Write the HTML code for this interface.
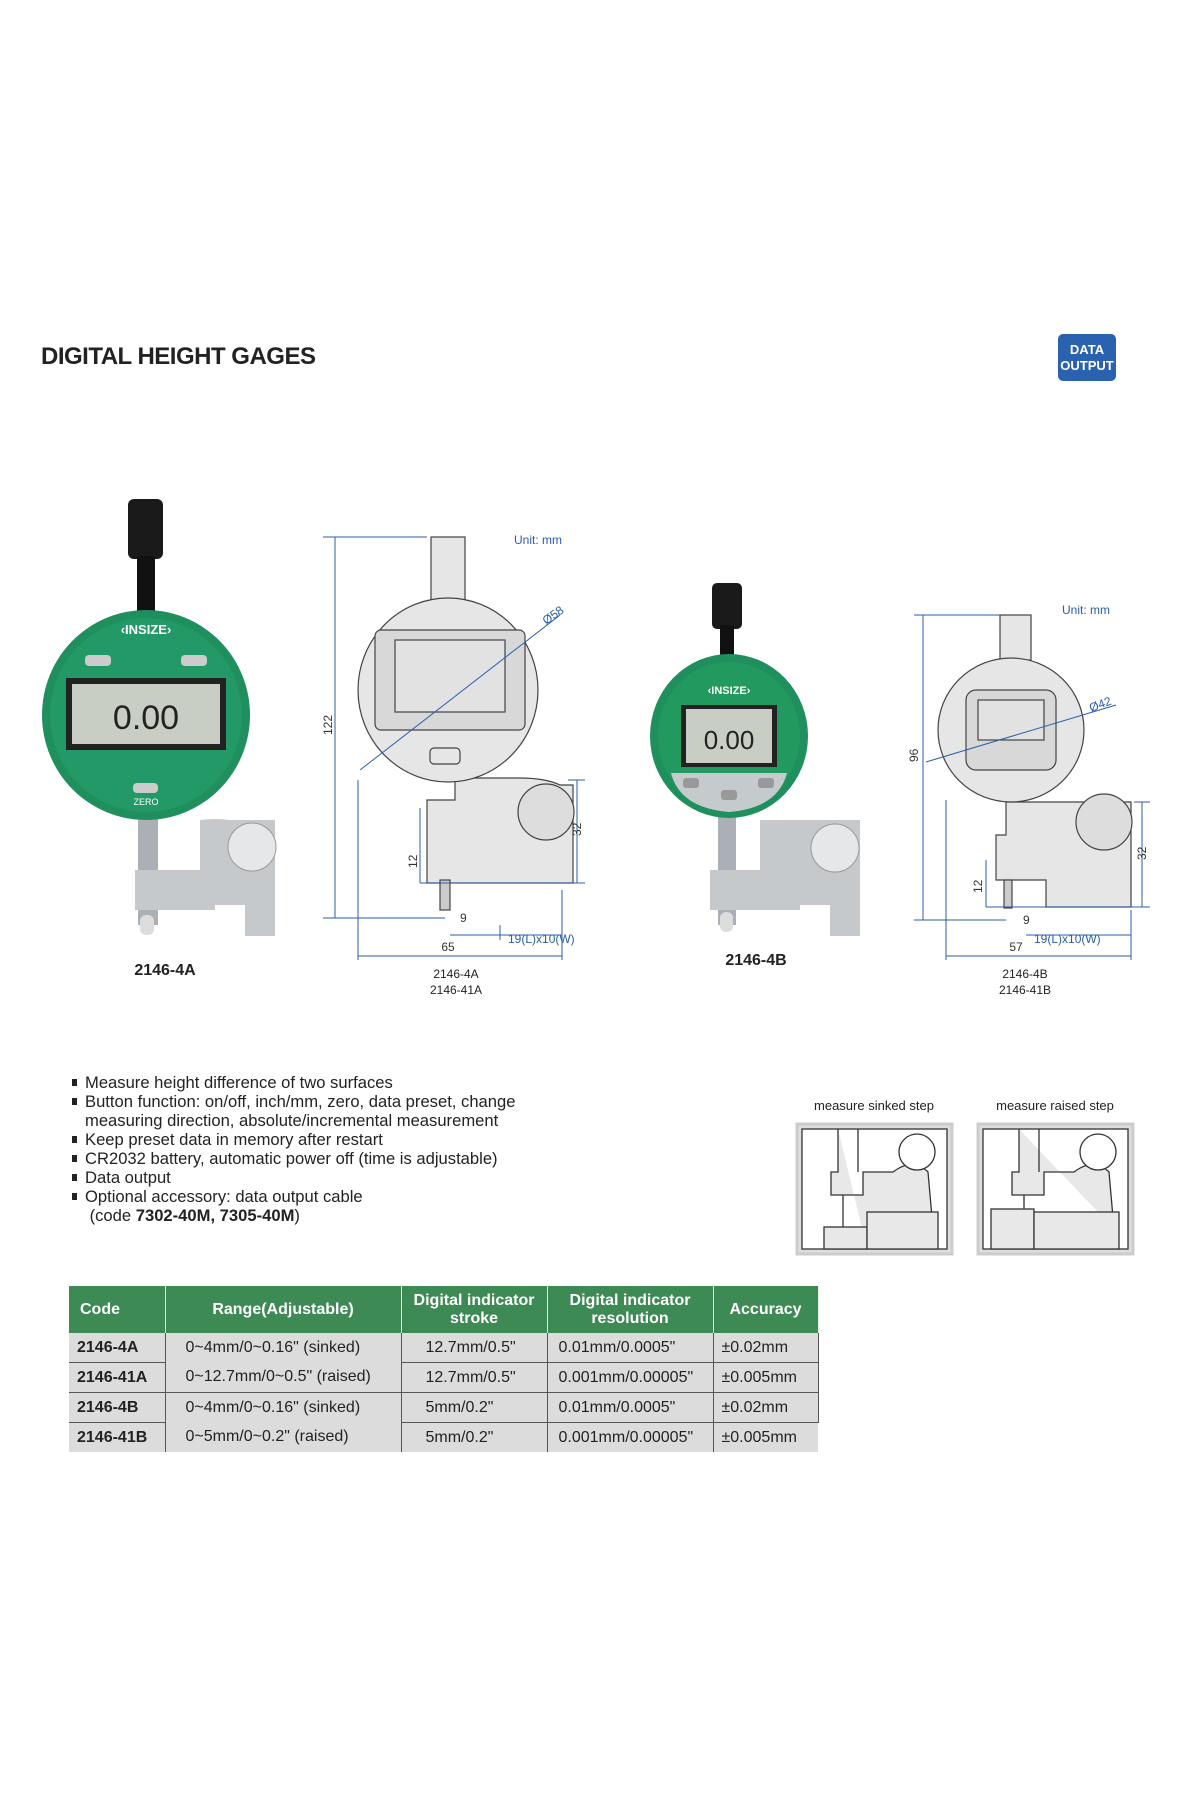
<!DOCTYPE html>
<html><head><meta charset="utf-8"><style>
html,body{margin:0;padding:0;background:#fff;}
body{width:1200px;height:1800px;position:relative;overflow:hidden;font-family:"Liberation Sans",sans-serif;}
svg text{font-family:"Liberation Sans",sans-serif;}
.title{position:absolute;left:41px;top:343px;font:bold 24px "Liberation Sans",sans-serif;color:#222;letter-spacing:-0.5px}
.badge{position:absolute;left:1058px;top:334px;width:58px;height:47px;background:#2a62b0;border-radius:5px;color:#fff;font:bold 13px "Liberation Sans",sans-serif;text-align:center;line-height:16px;padding-top:8px;box-sizing:border-box}
ul{position:absolute;left:72px;top:1073px;margin:0;padding:0;list-style:none;font-size:16.6px;color:#222;line-height:19px}
li{padding-left:13px;position:relative}
li:before{content:"";position:absolute;left:0;top:6px;width:5px;height:7px;background:#222}
table{position:absolute;left:69px;top:1286px;border-collapse:collapse;font-size:16px;color:#222;table-layout:fixed;width:749px}
th{background:#3d8a55;color:#fff;font-weight:bold;height:47px;line-height:18px;border-right:1px solid #eee;padding:0}
td{background:#dcdcdc;height:29px;padding:0 0 0 8px;border-right:1px solid #555;border-bottom:1px solid #555;white-space:nowrap;overflow:hidden}
</style></head><body>
<div class="title">DIGITAL HEIGHT GAGES</div>
<div class="badge">DATA<br>OUTPUT</div>

<svg width="1200" height="1800" style="position:absolute;left:0;top:0">
<!-- photo 1 -->
<rect x="128" y="499" width="35" height="60" rx="6" fill="#1a1a1a"/>
<rect x="137" y="556" width="18" height="60" fill="#111"/>
<rect x="138" y="815" width="20" height="110" fill="#aab0b5"/>
<path d="M135 870 H200 V820 Q215 818 230 820 L275 820 V936 H245 V905 H215 V910 H135 Z" fill="#c5c9cc"/>
<circle cx="252" cy="847" r="24" fill="#e5e7e9" stroke="#999"/>
<rect x="140" y="915" width="14" height="20" rx="6" fill="#ddd"/>
<ellipse cx="146" cy="715" rx="104" ry="105" fill="#1f8f5e"/>
<ellipse cx="146" cy="715" rx="96" ry="97" fill="#229966"/>
<text x="146" y="634" font-size="13" fill="#fff" text-anchor="middle" font-weight="bold">&#8249;INSIZE&#8250;</text>
<rect x="85" y="655" width="26" height="11" rx="4" fill="#ccc"/><rect x="181" y="655" width="26" height="11" rx="4" fill="#ccc"/>
<rect x="66" y="678" width="160" height="72" fill="#222"/>
<rect x="72" y="684" width="148" height="60" fill="#c8cec3"/>
<text x="146" y="729" font-size="34" fill="#222" text-anchor="middle">0.00</text>
<rect x="133" y="783" width="25" height="10" rx="4" fill="#ccc"/>
<text x="146" y="805" font-size="9" fill="#fff" text-anchor="middle">ZERO</text>
<text x="165" y="975" font-size="16" font-weight="bold" fill="#222" text-anchor="middle">2146-4A</text>

<!-- drawing 1 -->
<g stroke="#444" stroke-width="1.2" fill="#e6e6e6">
<rect x="431" y="537" width="34" height="66"/>
<path d="M427 883 V800 H455 V778 H520 Q545 778 560 785 L573 785 V883 Z"/>
<circle cx="546" cy="812" r="28" fill="#ddd"/>
<ellipse cx="448" cy="690" rx="90" ry="92"/>
<rect x="375" y="630" width="150" height="100" rx="6" fill="#d8d8d8"/>
<rect x="395" y="640" width="110" height="72" fill="#e2e2e2"/>
<rect x="430" y="748" width="30" height="16" rx="4"/>
<rect x="440" y="880" width="10" height="30" fill="#ccc"/>
</g>
<g stroke="#2a5ea8" stroke-width="1" fill="none">
<line x1="323" y1="537" x2="427" y2="537"/><line x1="335" y1="537" x2="335" y2="918"/><line x1="323" y1="918" x2="445" y2="918"/>
<line x1="577" y1="780" x2="577" y2="883"/><line x1="568" y1="780" x2="585" y2="780"/><line x1="420" y1="883" x2="585" y2="883"/>
<line x1="358" y1="956" x2="562" y2="956"/><line x1="358" y1="780" x2="358" y2="960"/><line x1="562" y1="890" x2="562" y2="960"/>
<line x1="450" y1="935" x2="562" y2="935"/><line x1="500" y1="925" x2="500" y2="940"/>
<line x1="360" y1="770" x2="560" y2="615"/>
<line x1="420" y1="808" x2="420" y2="883"/>
</g>
<g font-size="12" fill="#2a5ea8">
<text x="538" y="544" text-anchor="middle">Unit: mm</text>
<text x="546" y="625" transform="rotate(-35 546 625)">Ø58</text>
<text x="332" y="735" transform="rotate(-90 332 735)" fill="#333">122</text>
<text x="581" y="836" transform="rotate(-90 581 836)" fill="#333">32</text>
<text x="417" y="868" transform="rotate(-90 417 868)" fill="#333">12</text>
<text x="460" y="922" fill="#333">9</text>
<text x="508" y="943">19(L)x10(W)</text>
<text x="448" y="951" text-anchor="middle" fill="#333">65</text>
</g>
<text x="456" y="978" font-size="12" fill="#222" text-anchor="middle">2146-4A</text>
<text x="456" y="994" font-size="12" fill="#222" text-anchor="middle">2146-41A</text>

<!-- photo 2 -->
<rect x="712" y="583" width="30" height="46" rx="5" fill="#1a1a1a"/>
<rect x="720" y="625" width="14" height="30" fill="#111"/>
<rect x="718" y="815" width="18" height="110" fill="#aab0b5"/>
<path d="M710 870 H760 V820 L860 820 V936 H830 V905 H800 V910 H710 Z" fill="#c5c9cc"/>
<circle cx="835" cy="848" r="24" fill="#e5e7e9" stroke="#999"/>
<rect x="720" y="912" width="13" height="20" rx="6" fill="#ddd"/>
<ellipse cx="729" cy="736" rx="79" ry="82" fill="#1f8f5e"/>
<ellipse cx="729" cy="736" rx="71" ry="74" fill="#22995f"/>
<text x="729" y="694" font-size="11" fill="#fff" text-anchor="middle" font-weight="bold">&#8249;INSIZE&#8250;</text>
<rect x="681" y="705" width="96" height="62" fill="#222"/>
<rect x="686" y="709" width="86" height="54" fill="#c8cec3"/>
<text x="729" y="749" font-size="26" fill="#222" text-anchor="middle">0.00</text>
<path d="M671 773 H787 Q778 808 729 812 Q680 808 671 773Z" fill="#c5cbcc"/>
<rect x="683" y="778" width="16" height="10" rx="3" fill="#999"/><rect x="721" y="790" width="16" height="10" rx="3" fill="#999"/><rect x="758" y="778" width="16" height="10" rx="3" fill="#999"/>
<text x="756" y="965" font-size="16" font-weight="bold" fill="#222" text-anchor="middle">2146-4B</text>

<!-- drawing 2 -->
<g stroke="#444" stroke-width="1.2" fill="#e6e6e6">
<rect x="1000" y="615" width="31" height="45"/>
<path d="M996 880 V835 H1006 V802 H1076 L1131 802 V907 H1046 V880 Z"/>
<circle cx="1104" cy="822" r="28" fill="#ddd"/>
<ellipse cx="1011" cy="730" rx="73" ry="72"/>
<rect x="966" y="690" width="90" height="80" rx="10" fill="#d8d8d8"/>
<rect x="978" y="700" width="66" height="40" fill="#e2e2e2"/>
<rect x="1004" y="880" width="8" height="28" fill="#ccc"/>
</g>
<g stroke="#2a5ea8" stroke-width="1" fill="none">
<line x1="914" y1="615" x2="1000" y2="615"/><line x1="923" y1="615" x2="923" y2="920"/><line x1="914" y1="920" x2="1006" y2="920"/>
<line x1="1142" y1="802" x2="1142" y2="907"/><line x1="1134" y1="802" x2="1150" y2="802"/><line x1="986" y1="907" x2="1150" y2="907"/>
<line x1="946" y1="956" x2="1131" y2="956"/><line x1="946" y1="800" x2="946" y2="960"/><line x1="1131" y1="910" x2="1131" y2="960"/>
<line x1="1026" y1="935" x2="1131" y2="935"/>
<line x1="926" y1="762" x2="1116" y2="705"/>
<line x1="986" y1="860" x2="986" y2="907"/>
</g>
<g font-size="12" fill="#2a5ea8">
<text x="1086" y="614" text-anchor="middle">Unit: mm</text>
<text x="1091" y="712" transform="rotate(-20 1091 712)">Ø42</text>
<text x="918" y="762" transform="rotate(-90 918 762)" fill="#333">96</text>
<text x="1146" y="860" transform="rotate(-90 1146 860)" fill="#333">32</text>
<text x="982" y="893" transform="rotate(-90 982 893)" fill="#333">12</text>
<text x="1023" y="924" fill="#333">9</text>
<text x="1034" y="943">19(L)x10(W)</text>
<text x="1016" y="951" text-anchor="middle" fill="#333">57</text>
</g>
<text x="1025" y="978" font-size="12" fill="#222" text-anchor="middle">2146-4B</text>
<text x="1025" y="994" font-size="12" fill="#222" text-anchor="middle">2146-41B</text>

<!-- step boxes -->
<text x="874" y="1110" font-size="13" fill="#222" text-anchor="middle">measure sinked step</text>
<text x="1055" y="1110" font-size="13" fill="#222" text-anchor="middle">measure raised step</text>
<g stroke="#333" stroke-width="1.3" fill="#e8e8e8">
<rect x="797" y="1124" width="155" height="130" fill="#ddd" stroke="#ccc" stroke-width="3"/>
<rect x="802" y="1129" width="145" height="120" fill="#fff"/>
<path d="M838 1129 V1172 H831 V1195 H863 V1172 H893 Q913 1157 928 1172 L933 1229 H867 V1249 M858 1129 V1172"/>
<circle cx="917" cy="1152" r="18" fill="#fff"/>
<line x1="843" y1="1195" x2="843" y2="1227"/>
<rect x="824" y="1227" width="43" height="22"/><rect x="867" y="1212" width="71" height="37"/>
<rect x="978" y="1124" width="155" height="130" fill="#ddd" stroke="#ccc" stroke-width="3"/>
<rect x="983" y="1129" width="145" height="120" fill="#fff"/>
<path d="M1019 1129 V1172 H1012 V1195 H1044 V1172 H1074 Q1094 1157 1109 1172 L1114 1229 M1039 1129 V1172"/>
<circle cx="1098" cy="1152" r="18" fill="#fff"/>
<line x1="1024" y1="1195" x2="1024" y2="1209"/>
<rect x="991" y="1209" width="43" height="40"/><rect x="1034" y="1212" width="85" height="37"/>
</g>
</svg>

<ul>
<li>Measure height difference of two surfaces</li>
<li>Button function: on/off, inch/mm, zero, data preset, change<br>measuring direction, absolute/incremental measurement</li>
<li>Keep preset data in memory after restart</li>
<li>CR2032 battery, automatic power off (time is adjustable)</li>
<li>Data output</li>
<li>Optional accessory: data output cable<br>&nbsp;(code <b>7302-40M, 7305-40M</b>)</li>
</ul>

<table>
<colgroup><col style="width:96px"><col style="width:236px"><col style="width:146px"><col style="width:166px"><col style="width:105px"></colgroup>
<tr><th style="text-align:left;padding-left:11px">Code</th><th>Range(Adjustable)</th><th>Digital indicator<br>stroke</th><th>Digital indicator<br>resolution</th><th>Accuracy</th></tr>
<tr><td><b>2146-4A</b></td><td style="padding-left:20px;border-bottom:none">0~4mm/0~0.16" (sinked)</td><td style="padding-left:24px">12.7mm/0.5"</td><td style="padding-left:11px">0.01mm/0.0005"</td><td style="padding-left:8px">±0.02mm</td></tr>
<tr><td><b>2146-41A</b></td><td style="padding-left:20px">0~12.7mm/0~0.5" (raised)</td><td style="padding-left:24px">12.7mm/0.5"</td><td style="padding-left:11px">0.001mm/0.00005"</td><td style="padding-left:8px">±0.005mm</td></tr>
<tr><td><b>2146-4B</b></td><td style="padding-left:20px;border-bottom:none">0~4mm/0~0.16" (sinked)</td><td style="padding-left:24px">5mm/0.2"</td><td style="padding-left:11px">0.01mm/0.0005"</td><td style="padding-left:8px">±0.02mm</td></tr>
<tr><td style="border-bottom:none"><b>2146-41B</b></td><td style="padding-left:20px;border-bottom:none">0~5mm/0~0.2" (raised)</td><td style="padding-left:24px;border-bottom:none">5mm/0.2"</td><td style="padding-left:11px;border-bottom:none">0.001mm/0.00005"</td><td style="padding-left:8px;border-bottom:none;border-right:none">±0.005mm</td></tr>
</table>
</body></html>
